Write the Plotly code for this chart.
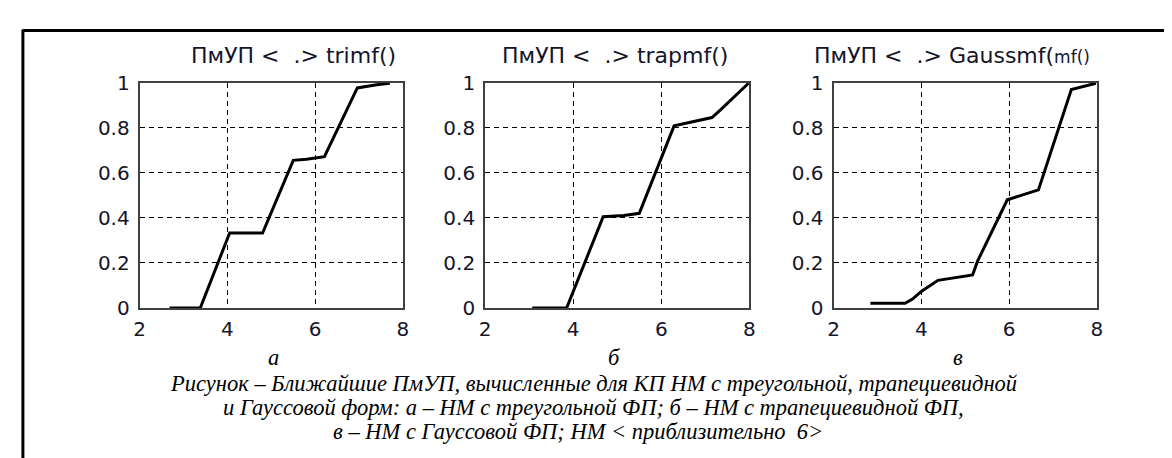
import plotly.graph_objects as go

W, H = 1172, 458

# ---- data ----
tri_x = [2.68, 3.38, 4.05, 4.80, 5.50, 5.80, 6.21, 6.96, 7.40, 7.70]
tri_y = [0.0, 0.0, 0.333, 0.333, 0.655, 0.660, 0.671, 0.976, 0.990, 0.997]

trap_x = [3.07, 3.85, 4.68, 5.15, 5.50, 6.29, 7.15, 7.35, 7.98]
trap_y = [0.0, 0.0, 0.405, 0.410, 0.420, 0.808, 0.845, 0.88, 0.997]

gauss_x = [2.84, 3.63, 3.80, 4.00, 4.38, 5.17, 5.28, 5.96, 6.67, 7.42, 7.98]
gauss_y = [0.021, 0.021, 0.040, 0.074, 0.123, 0.147, 0.207, 0.480, 0.524, 0.969, 0.997]

x_ticks = [2, 4, 6, 8]
y_ticks = [0, 0.2, 0.4, 0.6, 0.8, 1]
y_tick_text = ["0", "0.2", "0.4", "0.6", "0.8", "1"]

titles = [
    "ПмУП <\u00a0\u00a0.> trimf()",
    "ПмУП <\u00a0\u00a0.> trapmf()",
    "ПмУП <\u00a0\u00a0.> Gaussmf(<span style='font-size:17px'>mf()</span>",
]
sub_labels = ["а", "б", "в"]
caption_lines = [
    "Рисунок – Ближайшие ПмУП, вычисленные для КП НМ с треугольной, трапециевидной",
    "и Гауссовой форм: а – НМ с треугольной ФП; б – НМ с трапециевидной ФП,",
    "в – НМ с Гауссовой ФП; НМ < приблизительно  6>",
]

# ---- layout geometry (pixels) ----
panels_px = [(127, 393), (476, 743), (828, 1094)]
top_px, bot_px = 66, 304


def px(x):
    return x / W


def py(y):
    return 1 - y / H


fig = go.Figure()
series = [(tri_x, tri_y), (trap_x, trap_y), (gauss_x, gauss_y)]
tick_font = dict(family="DejaVu Sans", size=20, color="#15152a")

for i, ((xs, ys), (l, r)) in enumerate(zip(series, panels_px)):
    ax = "" if i == 0 else str(i + 1)
    fig.add_trace(go.Scatter(x=xs, y=ys, mode="lines",
                             line=dict(color="black", width=3),
                             xaxis="x" + ax, yaxis="y" + ax, showlegend=False,
                             hoverinfo="skip"))
    common = dict(showline=True, linecolor="#404040", linewidth=2, mirror=True,
                  showgrid=True, gridcolor="black", gridwidth=1, griddash="5px,4px",
                  zeroline=False, ticks="", tickfont=tick_font)
    fig.layout["xaxis" + ax] = dict(domain=[px(l), px(r)], range=[2, 8],
                                    tickvals=x_ticks, anchor="y" + ax,
                                    ticklabelstandoff=2, **common)
    fig.layout["yaxis" + ax] = dict(domain=[py(bot_px), py(top_px)], range=[0, 1],
                                    tickvals=y_ticks, ticktext=y_tick_text,
                                    anchor="x" + ax, ticklabelstandoff=4, **common)

annotations = []
title_cx = [282, 607, 948]
for t, cx in zip(titles, title_cx):
    annotations.append(dict(x=px(cx), y=py(37), xref="paper", yref="paper",
                            text=t, showarrow=False, xanchor="center", yanchor="middle",
                            font=dict(family="DejaVu Sans", size=22, color="#15152a")))

sub_cx = [262, 606, 954]
for s, cx in zip(sub_labels, sub_cx):
    annotations.append(dict(x=px(cx), y=py(356), xref="paper", yref="paper",
                            text=f"<i>{s}</i>", showarrow=False,
                            xanchor="center", yanchor="middle",
                            font=dict(family="Liberation Serif", size=22.5, color="black")))

cap_y = [384, 409, 434]
cap_cx = [586, 585, 570]
for line, y, cx in zip(caption_lines, cap_y, cap_cx):
    annotations.append(dict(x=px(cx), y=py(y), xref="paper", yref="paper",
                            text=f"<i>{line}</i>", showarrow=False,
                            xanchor="center", yanchor="middle",
                            font=dict(family="Liberation Serif", size=22.5, color="black")))

shapes = [
    dict(type="line", xref="paper", yref="paper", x0=px(9), x1=px(W + 5), y0=py(11), y1=py(11),
         line=dict(color="black", width=3)),
    dict(type="line", xref="paper", yref="paper", x0=px(9), x1=px(9), y0=py(10), y1=py(H + 5),
         line=dict(color="black", width=3)),
]

fig.update_layout(width=W, height=H, margin=dict(l=0, r=0, t=0, b=0),
                  paper_bgcolor="white", plot_bgcolor="white",
                  annotations=annotations, shapes=shapes)

fig.write_html("out.html")
